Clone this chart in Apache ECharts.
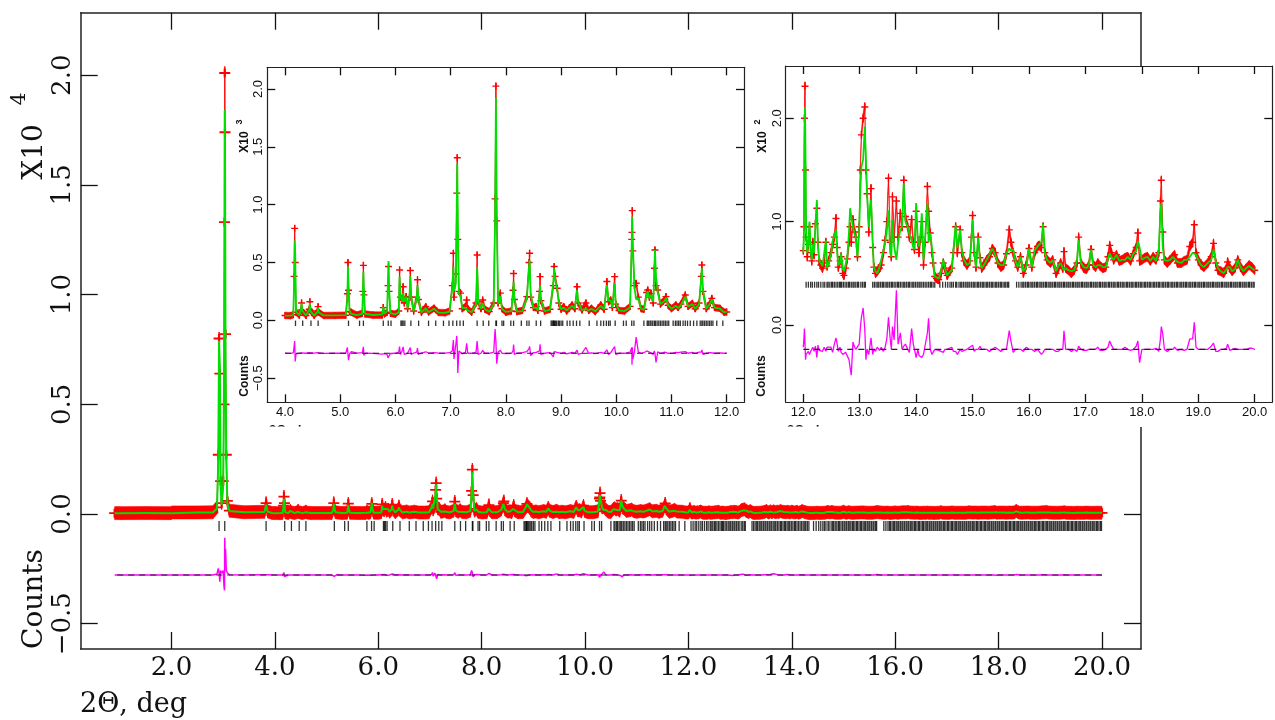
<!DOCTYPE html>
<html>
<head>
<meta charset="utf-8">
<script src="https://cdn.jsdelivr.net/npm/echarts@6/dist/echarts.min.js"></script>
<style>
html,body{margin:0;padding:0;background:#fff}
#chart{width:1275px;height:720px}
</style>
</head>
<body>
<div id="chart"></div>
<script>
// Rietveld profile, rows of [2θ (deg), observed counts, calculated counts]
const scanLow = [
  [0.90, 40, 40], [1.00, 40, 40], [1.50, 42, 41], [1.99, 40, 40], [2.01, 70, 70],
  [2.50, 72, 70], [2.80, 75, 72], [2.88, 300, 250], [2.905, 2700, 2400], [2.92, 8000, 7900],
  [2.935, 6400, 6700], [2.95, 1500, 1300], [2.97, 500, 420], [3.00, 1500, 1300], [3.015, 5000, 5500],
  [3.025, 13300, 14000], [3.03, 20100, 18400], [3.035, 17400, 16600], [3.045, 8200, 7000], [3.06, 2700, 2500],
  [3.08, 600, 500], [3.12, 150, 140], [3.40, 80, 78], [3.80, 100, 90], [3.83, 500, 420],
  [3.86, 110, 100], [3.95, 45, 45]
];

const scanMid = [
  [4.00, 42, 40], [4.10, 40, 41], [4.15, 48, 45], [4.165, 380, 320], [4.175, 795, 690],
  [4.185, 500, 570], [4.20, 70, 75], [4.26, 44, 43], [4.29, 90, 95], [4.30, 150, 147],
  [4.31, 80, 85], [4.38, 42, 42], [4.44, 95, 90], [4.45, 160, 150], [4.46, 85, 80],
  [4.53, 42, 41], [4.59, 80, 75], [4.60, 118, 110], [4.61, 70, 70], [4.70, 41, 42],
  [4.90, 42, 42], [5.10, 44, 44], [5.13, 230, 180], [5.14, 500, 465], [5.15, 260, 320],
  [5.17, 75, 80], [5.20, 70, 55], [5.30, 45, 44], [5.40, 60, 55], [5.41, 250, 230],
  [5.42, 475, 420], [5.43, 220, 240], [5.45, 55, 55], [5.60, 45, 46], [5.76, 45, 52],
  [5.78, 110, 115], [5.80, 55, 58], [5.85, 70, 80], [5.865, 300, 340], [5.875, 465, 512],
  [5.885, 250, 280], [5.91, 60, 62], [6.00, 52, 52], [6.06, 80, 70], [6.075, 435, 378],
  [6.09, 200, 210], [6.12, 180, 160], [6.14, 290, 235], [6.16, 150, 160], [6.195, 205, 205],
  [6.22, 100, 100], [6.255, 200, 210], [6.27, 430, 380], [6.285, 200, 210], [6.33, 80, 78],
  [6.385, 200, 190], [6.40, 350, 305], [6.415, 180, 190], [6.47, 70, 68], [6.55, 118, 105],
  [6.60, 72, 70], [6.70, 105, 100], [6.78, 68, 66], [6.90, 65, 64], [6.98, 80, 75],
  [7.03, 300, 280], [7.05, 580, 465], [7.06, 200, 250], [7.095, 400, 320], [7.11, 1100, 950],
  [7.12, 1406, 1352], [7.13, 700, 870], [7.15, 250, 230], [7.18, 235, 200], [7.21, 100, 105],
  [7.27, 120, 110], [7.29, 175, 90], [7.31, 100, 100], [7.38, 70, 70], [7.46, 150, 140],
  [7.48, 565, 460], [7.50, 160, 170], [7.55, 100, 100], [7.58, 175, 150], [7.62, 95, 95],
  [7.70, 75, 75], [7.78, 150, 140], [7.805, 1050, 840], [7.82, 2025, 1925], [7.835, 860, 950],
  [7.86, 150, 140], [7.90, 235, 210], [7.93, 100, 100], [8.00, 70, 72], [8.10, 80, 80],
  [8.13, 260, 240], [8.14, 405, 330], [8.155, 180, 190], [8.20, 75, 75], [8.30, 85, 80],
  [8.38, 205, 190], [8.42, 500, 460], [8.43, 580, 520], [8.45, 200, 220], [8.50, 110, 105],
  [8.55, 118, 110], [8.58, 85, 85], [8.61, 250, 230], [8.62, 378, 300], [8.635, 170, 180],
  [8.70, 80, 80], [8.80, 95, 90], [8.86, 300, 330], [8.875, 465, 450], [8.89, 380, 360],
  [8.93, 277, 270], [8.96, 150, 160], [9.00, 95, 95], [9.05, 118, 110], [9.10, 80, 85],
  [9.20, 133, 125], [9.25, 100, 100], [9.29, 290, 262], [9.31, 150, 160], [9.38, 90, 88],
  [9.45, 150, 100], [9.50, 85, 85], [9.55, 104, 100], [9.62, 75, 78], [9.72, 133, 125],
  [9.78, 95, 95], [9.83, 335, 305], [9.86, 160, 170], [9.90, 175, 170], [9.93, 110, 110],
  [9.97, 378, 320], [9.99, 140, 150], [10.05, 85, 85], [10.15, 80, 80], [10.25, 120, 110],
  [10.28, 700, 650], [10.285, 760, 860], [10.29, 948, 896], [10.30, 600, 650], [10.33, 300, 280],
  [10.36, 320, 180], [10.40, 200, 190], [10.45, 100, 100], [10.50, 95, 90], [10.55, 240, 220],
  [10.57, 262, 250], [10.60, 200, 190], [10.63, 233, 220], [10.67, 150, 160], [10.69, 450, 430],
  [10.70, 608, 608], [10.72, 300, 380], [10.75, 262, 250], [10.80, 140, 140], [10.88, 180, 170],
  [10.90, 205, 195], [10.94, 130, 130], [11.00, 100, 100], [11.08, 133, 125], [11.12, 110, 105],
  [11.17, 140, 130], [11.25, 219, 205], [11.30, 120, 120], [11.38, 147, 140], [11.43, 100, 100],
  [11.50, 150, 140], [11.54, 380, 370], [11.55, 478, 450], [11.57, 250, 260], [11.63, 100, 100],
  [11.70, 150, 145], [11.73, 190, 180], [11.78, 110, 110], [11.88, 104, 100], [11.95, 70, 70]
];

const scanHigh = [
  [12.00, 72, 70], [12.01, 95, 85], [12.02, 200, 180], [12.03, 231, 211], [12.04, 150, 160],
  [12.05, 85, 90], [12.07, 66, 70], [12.09, 78, 80], [12.11, 95, 100], [12.13, 70, 72],
  [12.15, 62, 63], [12.17, 80, 78], [12.19, 68, 70], [12.215, 98, 95], [12.24, 113, 121],
  [12.26, 80, 76], [12.28, 62, 63], [12.31, 58, 60], [12.34, 55, 57], [12.37, 60, 58],
  [12.40, 80, 82], [12.42, 57, 55], [12.45, 62, 60], [12.49, 70, 68], [12.52, 78, 81],
  [12.55, 85, 80], [12.58, 103, 92], [12.60, 75, 70], [12.62, 56, 58], [12.65, 62, 60],
  [12.67, 66, 69], [12.70, 50, 55], [12.72, 48, 52], [12.75, 55, 58], [12.78, 64, 66],
  [12.81, 80, 90], [12.83, 95, 113], [12.85, 80, 105], [12.88, 102, 95], [12.91, 90, 88],
  [12.93, 85, 85], [12.96, 66, 66], [12.99, 95, 90], [13.01, 150, 130], [13.03, 184, 153],
  [13.06, 200, 160], [13.09, 211, 192], [13.11, 150, 160], [13.13, 127, 127], [13.16, 90, 95],
  [13.20, 132, 121], [13.23, 75, 80], [13.25, 56, 56], [13.28, 50, 52], [13.31, 52, 50],
  [13.35, 55, 56], [13.38, 58, 56], [13.42, 70, 72], [13.45, 82, 80], [13.48, 100, 90],
  [13.51, 142, 111], [13.54, 80, 70], [13.56, 66, 66], [13.58, 124, 102], [13.61, 85, 76],
  [13.65, 120, 63], [13.68, 85, 80], [13.72, 108, 92], [13.75, 95, 95], [13.78, 140, 137],
  [13.81, 105, 100], [13.85, 95, 95], [13.88, 85, 88], [13.92, 102, 82], [13.95, 80, 75],
  [13.97, 73, 73], [14.00, 110, 118], [14.03, 80, 80], [14.05, 70, 76], [14.08, 85, 90],
  [14.10, 100, 108], [14.13, 58, 63], [14.16, 80, 85], [14.20, 134, 118], [14.22, 110, 80],
  [14.25, 89, 89], [14.28, 70, 75], [14.30, 60, 63], [14.33, 47, 47], [14.36, 45, 46],
  [14.40, 44, 45], [14.44, 50, 52], [14.48, 60, 63], [14.51, 55, 55], [14.55, 48, 48],
  [14.59, 52, 51], [14.63, 55, 53], [14.66, 70, 72], [14.70, 95, 97], [14.73, 70, 75],
  [14.78, 92, 92], [14.81, 70, 72], [14.85, 62, 63], [14.90, 58, 58], [14.95, 62, 60],
  [14.98, 85, 82], [15.00, 106, 102], [15.03, 70, 72], [15.06, 56, 56], [15.10, 85, 85],
  [15.13, 65, 62], [15.16, 55, 55], [15.20, 58, 58], [15.25, 63, 63], [15.30, 66, 68],
  [15.35, 74, 74], [15.40, 70, 68], [15.45, 60, 60], [15.50, 56, 58], [15.55, 58, 58],
  [15.60, 69, 69], [15.65, 92, 74], [15.68, 80, 72], [15.72, 70, 73], [15.76, 62, 62],
  [15.80, 56, 56], [15.85, 66, 66], [15.90, 50, 52], [15.95, 58, 56], [16.00, 74, 74],
  [16.05, 56, 56], [16.10, 70, 72], [16.15, 76, 76], [16.18, 77, 77], [16.22, 75, 80],
  [16.25, 95, 98], [16.28, 70, 70], [16.32, 63, 63], [16.38, 60, 60], [16.42, 63, 63],
  [16.48, 50, 52], [16.52, 55, 57], [16.56, 60, 60], [16.60, 55, 55], [16.62, 71, 53],
  [16.65, 55, 55], [16.70, 53, 53], [16.75, 50, 52], [16.80, 53, 53], [16.85, 60, 62],
  [16.88, 85, 82], [16.92, 60, 60], [16.97, 55, 56], [17.02, 54, 55], [17.06, 58, 58],
  [17.10, 73, 73], [17.14, 58, 58], [17.18, 56, 56], [17.22, 60, 58], [17.26, 57, 58],
  [17.31, 55, 56], [17.36, 56, 56], [17.40, 66, 64], [17.43, 77, 69], [17.46, 70, 66],
  [17.50, 63, 63], [17.55, 68, 68], [17.60, 62, 62], [17.65, 63, 63], [17.70, 65, 63],
  [17.75, 66, 66], [17.80, 62, 63], [17.85, 69, 69], [17.90, 75, 72], [17.93, 89, 81],
  [17.96, 62, 75], [18.00, 63, 63], [18.05, 65, 65], [18.10, 66, 66], [18.15, 62, 62],
  [18.20, 66, 66], [18.25, 63, 62], [18.30, 70, 72], [18.33, 120, 110], [18.345, 140, 118],
  [18.37, 90, 75], [18.40, 63, 63], [18.45, 60, 62], [18.50, 63, 63], [18.55, 66, 66],
  [18.58, 68, 66], [18.63, 60, 61], [18.70, 60, 60], [18.75, 62, 63], [18.80, 63, 63],
  [18.85, 76, 66], [18.90, 80, 70], [18.93, 97, 71], [18.96, 70, 68], [19.00, 63, 63],
  [19.05, 58, 58], [19.10, 56, 56], [19.17, 60, 60], [19.23, 66, 63], [19.27, 79, 73],
  [19.31, 60, 62], [19.35, 53, 55], [19.40, 52, 52], [19.45, 50, 50], [19.50, 55, 54],
  [19.52, 61, 56], [19.56, 55, 56], [19.60, 52, 52], [19.65, 55, 54], [19.70, 63, 63],
  [19.75, 56, 56], [19.80, 52, 52], [19.85, 55, 55], [19.90, 58, 57], [19.95, 56, 55],
  [20.00, 53, 53]
];

// Bragg reflection positions, 2θ (deg)
const reflections = [
  2.92, 3.03, 3.83,
  4.19, 4.32, 4.47, 4.60, 5.15, 5.35, 5.42, 5.78, 5.87, 5.92, 6.10, 6.12, 6.14, 6.17, 6.28,
  6.42, 6.60, 6.73, 6.87, 6.97, 7.04, 7.11, 7.17, 7.23, 7.48, 7.59, 7.69, 7.82, 7.83, 7.93,
  7.96, 8.09, 8.14, 8.28, 8.38, 8.42, 8.55, 8.63, 8.82, 8.84, 8.86, 8.87, 8.88, 8.90, 8.92,
  8.95, 8.97, 9.00, 9.03, 9.11, 9.16, 9.22, 9.28, 9.34, 9.51, 9.65, 9.72, 9.77, 9.82, 9.86,
  9.89, 9.98, 10.13, 10.18, 10.28, 10.32, 10.50, 10.56, 10.58, 10.61, 10.63, 10.66, 10.69,
  10.71, 10.74, 10.77, 10.80, 10.83, 10.86, 10.89, 10.92, 10.95, 11.03, 11.07, 11.10, 11.13,
  11.16, 11.21, 11.25, 11.29, 11.34, 11.40, 11.46, 11.52, 11.55, 11.57, 11.60, 11.63, 11.66,
  11.69, 11.72, 11.75, 11.82, 11.93,
  12.05, 12.09, 12.13, 12.16, 12.20, 12.24, 12.27, 12.31, 12.35, 12.38, 12.42, 12.44, 12.47,
  12.50, 12.52, 12.55, 12.58, 12.61, 12.64, 12.66, 12.68, 12.71, 12.74, 12.77, 12.80, 12.82,
  12.85, 12.88, 12.90, 12.93, 12.96, 12.98, 13.02, 13.05, 13.08, 13.10, 13.23, 13.26, 13.29,
  13.32, 13.34, 13.37, 13.40, 13.42, 13.45, 13.48, 13.50, 13.53, 13.56, 13.58, 13.61, 13.64,
  13.67, 13.69, 13.72, 13.75, 13.78, 13.80, 13.83, 13.86, 13.88, 13.91, 13.94, 13.96, 13.99,
  14.02, 14.05, 14.07, 14.10, 14.13, 14.16, 14.19, 14.22, 14.25, 14.27, 14.30, 14.33, 14.42,
  14.47, 14.52, 14.56, 14.60, 14.63, 14.66, 14.70, 14.72, 14.76, 14.79, 14.81, 14.84, 14.87,
  14.90, 14.92, 14.95, 14.98, 15.01, 15.03, 15.06, 15.09, 15.11, 15.14, 15.17, 15.19, 15.22,
  15.25, 15.27, 15.30, 15.33, 15.35, 15.38, 15.41, 15.43, 15.46, 15.49, 15.51, 15.54, 15.57,
  15.59, 15.62, 15.64, 15.78, 15.82, 15.86, 15.89, 15.91, 15.94, 15.97, 15.99, 16.02, 16.05,
  16.07, 16.10, 16.13, 16.15, 16.18, 16.21, 16.23, 16.26, 16.29, 16.31, 16.34, 16.37, 16.39,
  16.42, 16.45, 16.47, 16.50, 16.53, 16.55, 16.58, 16.61, 16.63, 16.66, 16.69, 16.71, 16.74,
  16.77, 16.79, 16.82, 16.85, 16.87, 16.90, 16.93, 16.95, 16.98, 17.01, 17.03, 17.06, 17.09,
  17.11, 17.14, 17.17, 17.19, 17.22, 17.25, 17.27, 17.30, 17.33, 17.35, 17.38, 17.41, 17.43,
  17.46, 17.49, 17.51, 17.54, 17.57, 17.59, 17.62, 17.65, 17.67, 17.70, 17.73, 17.75, 17.78,
  17.81, 17.83, 17.86, 17.89, 17.91, 17.94, 17.97, 17.99, 18.02, 18.05, 18.07, 18.10, 18.13,
  18.15, 18.18, 18.21, 18.23, 18.26, 18.29, 18.31, 18.34, 18.37, 18.39, 18.42, 18.45, 18.47,
  18.50, 18.53, 18.55, 18.58, 18.61, 18.63, 18.66, 18.69, 18.71, 18.74, 18.77, 18.79, 18.82,
  18.85, 18.87, 18.90, 18.93, 18.95, 18.98, 19.01, 19.03, 19.06, 19.09, 19.11, 19.14, 19.17,
  19.19, 19.22, 19.25, 19.27, 19.30, 19.33, 19.35, 19.38, 19.41, 19.43, 19.46, 19.49, 19.51,
  19.54, 19.57, 19.59, 19.62, 19.65, 19.67, 19.70, 19.73, 19.75, 19.78, 19.81, 19.83, 19.86,
  19.89, 19.91, 19.94, 19.97, 19.99
];

// Tick values for each panel
const mainXTicks = [2, 4, 6, 8, 10, 12, 14, 16, 18, 20];
const mainYTicks = [-5000, 0, 5000, 10000, 15000, 20000];
const lowZoomXTicks = [4, 5, 6, 7, 8, 9, 10, 11, 12];
const lowZoomYTicks = [-500, 0, 500, 1000, 1500, 2000];
const highZoomXTicks = [12, 13, 14, 15, 16, 17, 18, 19, 20];
const highZoomYTicks = [0, 100, 200];

const profile = scanLow.concat(scanMid, scanHigh);

const SERIF = '"DejaVu Serif", "Liberation Serif", serif';
const SANS = '"Liberation Sans", "DejaVu Sans", Arial, sans-serif';
const PLUS = 'path://M4,0H6V4H10V6H6V10H4V6H0V4H4Z';

// Panel layout: full range plus two enlarged windows
const panels = [
  { left: 80.7, top: 12.7, right: 1141, bottom: 649, xMin: 0.2434, xMax: 20.7545, yMin: -6153, yMax: 22849,
    from: 0, to: 21, zeroFrom: 0.95, zeroTo: 20.0, diffOffset: -2780, reflY: -547, reflH: 10, bandPx: 6.5,
    plus: [11, 9], scale: 1e4, xTicks: mainXTicks, yTicks: mainYTicks, tickLen: 17,
    font: SERIF, fontSize: 26, xMargin: 6, yMargin: 4, frameW: 1.5, calcW: 2, diffW: 1.5, z: 2 },
  { left: 267.3, top: 67.3, right: 744, bottom: 402.3, xMin: 3.6794, xMax: 12.3133, yMin: -709, yMax: 2187.6,
    from: 4.0, to: 12.0, zeroFrom: 4.0, zeroTo: 12.0, diffOffset: -285, reflY: -26, reflH: 5.5, bandPx: 3.3,
    plus: [7, 7], scale: 1e3, xTicks: lowZoomXTicks, yTicks: lowZoomYTicks, tickLen: 8,
    font: SANS, fontSize: 13, xMargin: 4, yMargin: 2, frameW: 1.2, calcW: 1.8, diffW: 1.3, z: 20 },
  { left: 785.7, top: 66, right: 1272.3, bottom: 402, xMin: 11.688, xMax: 20.312, yMin: -74.5, yMax: 250.6,
    from: 12.0, to: 20.0, zeroFrom: 12.0, zeroTo: 20.0, diffOffset: -23.5, reflY: 39, reflH: 6, bandPx: 4.5,
    plus: [7, 7], scale: 1e2, xTicks: highZoomXTicks, yTicks: highZoomYTicks, tickLen: 8,
    font: SANS, fontSize: 13, xMargin: 4, yMargin: 2, frameW: 1.2, calcW: 1.8, diffW: 1.3, z: 20 }
];

const grids = [], xAxes = [], yAxes = [], series = [];

function fmt(v, s) {
  const t = (v / s).toFixed(1);
  return v < 0 ? '\u2212' + t.slice(1) : t;
}

panels.forEach(function (p, gi) {
  grids.push({ left: p.left, top: p.top, width: p.right - p.left, height: p.bottom - p.top, show: false });
  const line = { show: true, onZero: false, lineStyle: { color: '#222', width: p.frameW } };
  const tickX = { inside: true, length: p.tickLen, customValues: p.xTicks, lineStyle: { color: '#111', width: 1.3 } };
  const tickY = { inside: true, length: p.tickLen, customValues: p.yTicks, lineStyle: { color: '#111', width: 1.3 } };
  const base = { type: 'value', gridIndex: gi, splitLine: { show: false }, axisLine: line, z: p.z + 8, silent: true };
  xAxes.push(Object.assign({}, base, { position: 'bottom', min: p.xMin, max: p.xMax, axisTick: tickX,
    axisLabel: { customValues: p.xTicks, formatter: function (v) { return v.toFixed(1); }, margin: p.xMargin,
      fontFamily: p.font, fontSize: p.fontSize, color: '#111' } }));
  xAxes.push(Object.assign({}, base, { position: 'top', min: p.xMin, max: p.xMax, axisTick: tickX, axisLabel: { show: false } }));
  yAxes.push(Object.assign({}, base, { position: 'left', min: p.yMin, max: p.yMax, axisTick: tickY,
    axisLabel: { customValues: p.yTicks, rotate: 90, formatter: function (v) { return fmt(v, p.scale); }, margin: p.yMargin,
      fontFamily: p.font, fontSize: p.fontSize, color: '#111' } }));
  yAxes.push(Object.assign({}, base, { position: 'right', min: p.yMin, max: p.yMax, axisTick: tickY, axisLabel: { show: false } }));

  const xi = gi * 2, yi = gi * 2;
  const pts = profile.filter(function (d) { return d[0] >= p.from - 1e-9 && d[0] <= p.to + 1e-9; });
  const refl = reflections.filter(function (r) { return r >= p.from - 1e-9 && r <= p.to + 1e-9; });
  const common = { xAxisIndex: xi, yAxisIndex: yi, animation: false, silent: true };

  // observed counts: a red band of fixed pixel thickness between neighbouring points
  const segs = [];
  for (let i = 0; i + 1 < pts.length; i++) segs.push([pts[i][0], pts[i][1], pts[i + 1][0], pts[i + 1][1]]);
  const h = p.bandPx;
  series.push(Object.assign({}, common, { type: 'custom', z: p.z, data: segs,
    encode: { x: [0, 2], y: [1, 3] },
    renderItem: function (params, api) {
      const a = api.coord([api.value(0), api.value(1)]);
      const b = api.coord([api.value(2), api.value(3)]);
      return { type: 'polygon', shape: { points: [[a[0], a[1] - h], [b[0], b[1] - h], [b[0], b[1] + h], [a[0], a[1] + h]] },
        style: { fill: '#ff0000', stroke: '#ff0000', lineWidth: 0.6 } };
    } }));
  // "+" markers on the observed points
  series.push(Object.assign({}, common, { type: 'line', z: p.z + 1,
    data: pts.map(function (d) { return [d[0], d[1]]; }), symbol: PLUS, symbolSize: p.plus, showSymbol: true,
    showAllSymbol: true, itemStyle: { color: '#ff0000' }, lineStyle: { opacity: 0 } }));
  // calculated profile
  series.push(Object.assign({}, common, { type: 'line', z: p.z + 2,
    data: pts.map(function (d) { return [d[0], d[2]]; }), symbol: 'none',
    lineStyle: { color: '#00e000', width: p.calcW } }));
  // reflection markers
  series.push(Object.assign({}, common, { type: 'scatter', z: p.z + 2,
    data: refl.map(function (r) { return [r, p.reflY]; }), symbol: 'rect', symbolSize: [1.3, p.reflH],
    itemStyle: { color: '#000' } }));
  // difference curve (obs - calc) and its zero line
  series.push(Object.assign({}, common, { type: 'line', z: p.z + 2,
    data: pts.map(function (d) { return [d[0], d[1] - d[2] + p.diffOffset]; }), symbol: 'none',
    lineStyle: { color: '#ff00ff', width: p.diffW } }));
  series.push(Object.assign({}, common, { type: 'line', z: p.z + 3,
    data: [[p.zeroFrom, p.diffOffset], [p.zeroTo, p.diffOffset]], symbol: 'none',
    lineStyle: { color: '#222', width: 1.2, type: [6, 5] } }));
});

function vtext(x, y, text, font, size, weight, z) {
  return { type: 'text', x: x, y: y, rotation: Math.PI / 2, z: z, silent: true,
    style: { text: text, fontFamily: font, fontSize: size, fontWeight: weight || 'normal', fill: '#111',
      align: 'center', verticalAlign: 'middle' } };
}

const graphics = [
  // white backgrounds of the two enlarged windows
  { type: 'rect', shape: { x: 232, y: 66, width: 520, height: 361 }, style: { fill: '#fff' }, z: 15, silent: true },
  { type: 'rect', shape: { x: 752, y: 66, width: 523, height: 361 }, style: { fill: '#fff' }, z: 15, silent: true },
  // axis titles of the full-range panel
  vtext(35, 599, 'Counts', SERIF, 28, 'normal', 30),
  vtext(35, 152, 'X10', SERIF, 28, 'normal', 30),
  vtext(20, 99, '4', SERIF, 20, 'normal', 30),
  { type: 'text', x: 80, y: 705, z: 30, silent: true,
    style: { text: '2\u0398, deg', fontFamily: SERIF, fontSize: 27, fill: '#111', align: 'left', verticalAlign: 'middle' } },
  // axis titles of the 4–12° window
  vtext(245, 142, 'X10', SANS, 12, 'bold', 30),
  vtext(240, 122, '3', SANS, 9, 'bold', 30),
  vtext(245, 376, 'Counts', SANS, 12, 'bold', 30),
  // axis titles of the 12–20° window
  vtext(763, 142, 'X10', SANS, 12, 'bold', 30),
  vtext(758, 122, '2', SANS, 9, 'bold', 30),
  vtext(762, 376, 'Counts', SANS, 12, 'bold', 30),
  // x titles of the windows, cut by the window edge
  { type: 'text', x: 269, y: 424, z: 30, silent: true,
    style: { text: '2\u0398, deg', fontFamily: SANS, fontSize: 13, fontWeight: 'bold', fill: '#111', align: 'left', verticalAlign: 'top' } },
  { type: 'text', x: 787, y: 424, z: 30, silent: true,
    style: { text: '2\u0398, deg', fontFamily: SANS, fontSize: 13, fontWeight: 'bold', fill: '#111', align: 'left', verticalAlign: 'top' } },
  { type: 'rect', shape: { x: 262, y: 426.5, width: 140, height: 16 }, style: { fill: '#fff' }, z: 31, silent: true },
  { type: 'rect', shape: { x: 780, y: 426.5, width: 140, height: 16 }, style: { fill: '#fff' }, z: 31, silent: true }
];

const chart = echarts.init(document.getElementById('chart'), null, { renderer: 'canvas' });
chart.setOption({
  backgroundColor: '#fff',
  animation: false,
  grid: grids,
  xAxis: xAxes,
  yAxis: yAxes,
  series: series,
  graphic: { elements: graphics }
});
</script>
</body>
</html>
